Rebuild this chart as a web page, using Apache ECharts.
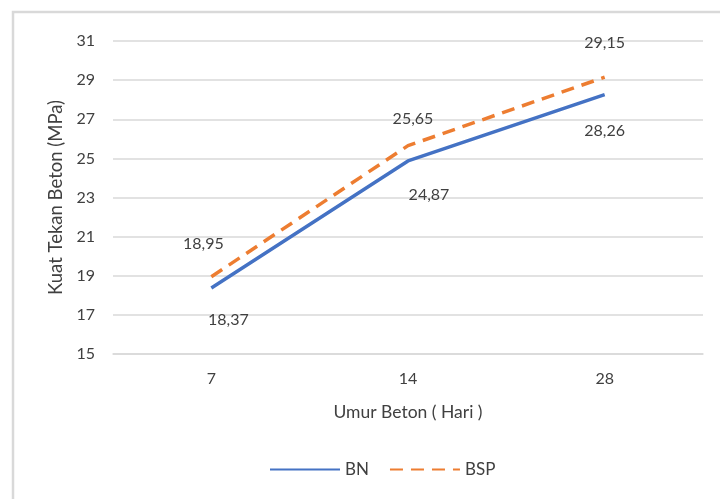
<!DOCTYPE html>
<html>
<head>
<meta charset="utf-8">
<script src="https://cdn.jsdelivr.net/npm/echarts@6/dist/echarts.min.js"></script>
<style>
  html, body { margin: 0; padding: 0; background: #ffffff; }
  #chart { width: 720px; height: 499px; }
</style>
</head>
<body>
<div id="chart"></div>
<script>
// Concrete compressive strength by age
const categories = ['7', '14', '28'];
const seriesNames = ['BN', 'BSP'];
const bnValues = [18.37, 24.87, 28.26];
const bspValues = [18.95, 25.65, 29.15];
const yTicks = { min: 15, max: 31, step: 2 };

// Label nudges (pixels) for each point's value label
const bnLabelOffsets = [[17, 32], [21, 34], [0, 36]];
const bspLabelOffsets = [[-8, -33], [5, -27], [0, -34]];

const FONT = 'Lato, "Noto Sans", sans-serif';
const TEXT = '#404040';
const GRID = '#d9d9d9';
const BLUE = '#4472c4';
const ORANGE = '#ed7d31';

function fmt(v) { return v.toFixed(2).replace('.', ','); }

function buildData(values, offsets) {
  return values.map((v, i) => ({
    value: v,
    label: { offset: offsets[i] }
  }));
}

const chart = echarts.init(document.getElementById('chart'), null, { renderer: 'canvas' });

const valueLabel = {
  show: true,
  position: 'inside',
  fontFamily: FONT,
  fontSize: 16,
  color: TEXT,
  formatter: p => fmt(p.value)
};

chart.setOption({
  animation: false,
  backgroundColor: '#ffffff',
  textStyle: { fontFamily: FONT, color: TEXT },
  graphic: [{
    type: 'rect',
    shape: { x: 13, y: 12, width: 800, height: 600 },
    style: { fill: 'none', stroke: '#d9d9d9', lineWidth: 2.5 },
    silent: true
  }],
  grid: { left: 113, right: 17, top: 41, bottom: 145 },
  legend: {
    bottom: 16,
    left: 264,
    itemWidth: 70,
    itemHeight: 12,
    itemGap: 20,
    textStyle: { fontFamily: FONT, fontSize: 17, color: TEXT },
    data: seriesNames
  },
  xAxis: {
    type: 'category',
    data: categories,
    boundaryGap: true,
    name: 'Umur Beton ( Hari )',
    nameLocation: 'middle',
    nameGap: 49,
    nameTextStyle: { fontFamily: FONT, fontSize: 17.5, color: TEXT },
    axisLine: { show: true, lineStyle: { color: GRID, width: 1.5 } },
    axisTick: { show: false },
    axisLabel: { margin: 17, fontFamily: FONT, fontSize: 16, color: TEXT },
    splitLine: { show: false }
  },
  yAxis: {
    type: 'value',
    min: yTicks.min,
    max: yTicks.max,
    interval: yTicks.step,
    name: 'Kuat Tekan Beton (MPa)',
    nameLocation: 'middle',
    nameGap: 37,
    nameRotate: 90,
    nameTextStyle: { fontFamily: FONT, fontSize: 18.5, color: TEXT },
    axisLine: { show: false },
    axisTick: { show: false },
    axisLabel: { margin: 18, fontFamily: FONT, fontSize: 16, color: TEXT },
    splitLine: { lineStyle: { color: GRID, width: 1.5 } }
  },
  series: [
    {
      name: seriesNames[0],
      type: 'line',
      data: buildData(bnValues, bnLabelOffsets),
      symbol: 'circle',
      symbolSize: 2,
      itemStyle: { color: 'rgba(0,0,0,0)' },
      lineStyle: { color: BLUE, width: 3.5 },
      label: valueLabel
    },
    {
      name: seriesNames[1],
      type: 'line',
      data: buildData(bspValues, bspLabelOffsets),
      symbol: 'circle',
      symbolSize: 2,
      itemStyle: { color: 'rgba(0,0,0,0)' },
      lineStyle: { color: ORANGE, width: 3.5, type: [13, 8] },
      label: valueLabel
    }
  ]
});
</script>
</body>
</html>
